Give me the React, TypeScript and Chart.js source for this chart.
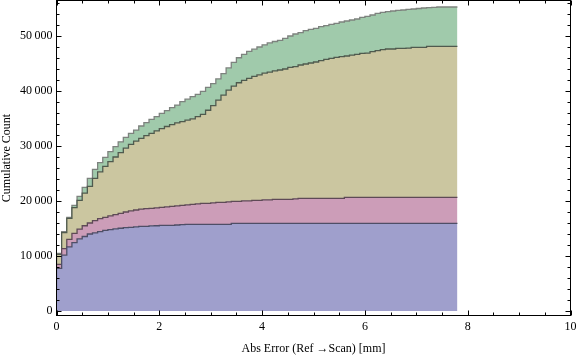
import { useEffect, useRef } from 'react';
import { Chart, registerables } from 'chart.js';

Chart.register(...registerables);

// ---------- data ----------
const BIN_WIDTH = 0.1; // histogram bin width [mm]
const X_END = 7.8; // right edge of the last bin
const X_MIN = 0;
const X_MAX = 10;
const Y_MIN = -818;
const Y_MAX = 56455;
const X_TICKS = [0, 2, 4, 6, 8, 10];
const X_MINOR_STEP = 0.5;
const Y_TICKS = [0, 10000, 20000, 30000, 40000, 50000];
const Y_MINOR_STEP = 2000;

const layerNames = ['Layer 1', 'Layer 2', 'Layer 3', 'Layer 4'];

// cumulative stacked totals (top edge of each layer), one value per 0.1 mm bin
const blueTop = [
  4100, 7760, 10150, 11650, 12450, 13100, 13550, 14000, 14200, 14450,
  14650, 14800, 14950, 15050, 15150, 15210, 15300, 15390, 15390, 15480,
  15500, 15580, 15580, 15580, 15640, 15700, 15760, 15760, 15760, 15760,
  15760, 15760, 15760, 15760, 15760, 15940, 15940, 15940, 15940, 15940,
  15940, 15940, 15940, 15940, 15940, 15940, 15940, 15940, 15940, 15940,
  15940, 15940, 15940, 15940, 15940, 15940, 15940, 15940, 15940, 15940,
  15940, 15940, 15940, 15940, 15940, 15940, 15940, 15940, 15940, 15940,
  15940, 15940, 15940, 15940, 15940, 15940, 15940, 15940,
];

const pinkTop = [
  4700, 8480, 11350, 13030, 14100, 14900, 15500, 16000, 16450, 16780,
  17030, 17280, 17510, 17760, 18000, 18200, 18360, 18540, 18600, 18670,
  18760, 18850, 18940, 19030, 19120, 19210, 19300, 19390, 19480, 19580,
  19580, 19670, 19760, 19760, 19850, 19940, 19940, 20030, 20030, 20120,
  20120, 20210, 20210, 20300, 20300, 20300, 20300, 20390, 20480, 20480,
  20480, 20480, 20480, 20480, 20480, 20480, 20480, 20670, 20670, 20670,
  20670, 20670, 20670, 20670, 20670, 20670, 20670, 20670, 20670, 20670,
  20670, 20670, 20670, 20670, 20670, 20670, 20670, 20670,
];

const tanTop = [
  5450, 10300, 14240, 16850, 18800, 20100, 21450, 22650, 24100, 25300,
  26300, 27150, 28000, 28800, 29600, 30300, 30900, 31400, 31900, 32300,
  32750, 33150, 33550, 33900, 34200, 34450, 34700, 34950, 35330, 35760,
  36500, 37350, 38350, 39250, 40150, 40900, 41500, 41950, 42300, 42650,
  42950, 43250, 43450, 43650, 43820, 44000, 44300, 44450, 44730, 44910,
  45090, 45270, 45510, 45760, 45940, 46120, 46240, 46360, 46540, 46670,
  46850, 46900, 47150, 47330, 47510, 47640, 47640, 47760, 47760, 47800,
  47940, 47940, 47940, 48120, 48120, 48120, 48120, 48120,
];

const greenTop = [
  5580, 10490, 14420, 17030, 19210, 20850, 22480, 24120, 25760, 26970,
  27950, 28970, 29880, 30760, 31580, 32300, 32900, 33640, 34240, 34850,
  35330, 35940, 36420, 36970, 37450, 38060, 38520, 38970, 39390, 39950,
  40650, 41350, 42200, 43150, 44200, 45200, 46050, 46650, 47200, 47600,
  48000, 48400, 48750, 49000, 49210, 49580, 50000, 50360, 50600, 50970,
  51210, 51390, 51700, 51880, 52120, 52300, 52550, 52730, 52910, 53090,
  53390, 53580, 53820, 54120, 54300, 54420, 54550, 54670, 54730, 54850,
  54910, 55000, 55090, 55150, 55210, 55270, 55270, 55270,
];

const fillColors = ['#9f9fcc', '#cc9db8', '#cbc6a0', '#a0caab'];
const lineColors = ['#4e4e66', '#5e4a56', '#4f5a4e', '#7d827e'];

const FONT = '"Liberation Serif", "Times New Roman", serif';

function toSteps(values: number[]) {
  const pts = values.map((v, i) => ({ x: Math.round(i * BIN_WIDTH * 100) / 100, y: v }));
  pts.push({ x: X_END, y: values[values.length - 1] });
  return pts;
}

function groupDigits(v: number) {
  return String(v).replace(/\B(?=(\d{3})+(?!\d))/g, '\u2009');
}

const frameTicks = {
  id: 'frameTicks',
  afterDraw(chart: any) {
    const { ctx, chartArea: a } = chart;
    const xs = chart.scales.x;
    const ys = chart.scales.y;
    ctx.save();
    ctx.strokeStyle = '#000';
    ctx.lineWidth = 1;
    ctx.strokeRect(a.left, a.top, a.right - a.left, a.bottom - a.top);
    ctx.beginPath();
    const MAJ = 5;
    const MIN = 3;
    for (let v = X_MIN; v <= X_MAX + 1e-9; v += X_MINOR_STEP) {
      const isMajor = X_TICKS.some((t) => Math.abs(t - v) < 1e-9);
      const len = isMajor ? MAJ : MIN;
      const px = Math.round(xs.getPixelForValue(v)) + 0.5;
      ctx.moveTo(px, a.bottom);
      ctx.lineTo(px, a.bottom - len);
      ctx.moveTo(px, a.top);
      ctx.lineTo(px, a.top + len);
    }
    for (let v = 0; v <= Y_MAX; v += Y_MINOR_STEP) {
      const isMajor = Y_TICKS.some((t) => Math.abs(t - v) < 1e-9);
      const len = isMajor ? MAJ : MIN;
      const py = Math.round(ys.getPixelForValue(v)) + 0.5;
      ctx.moveTo(a.left, py);
      ctx.lineTo(a.left + len, py);
      ctx.moveTo(a.right, py);
      ctx.lineTo(a.right - len, py);
    }
    ctx.stroke();
    ctx.restore();
  },
};

export default function App() {
  const canvasRef = useRef<HTMLCanvasElement | null>(null);

  useEffect(() => {
    const canvas = canvasRef.current;
    if (!canvas) return;
    const series = [blueTop, pinkTop, tanTop, greenTop];
    const chart = new Chart(canvas, {
      type: 'line',
      data: {
        datasets: series.map((vals, i) => ({
          label: layerNames[i],
          data: toSteps(vals),
          stepped: 'after' as const,
          borderColor: lineColors[i],
          borderWidth: 1.3,
          backgroundColor: fillColors[i],
          fill: i === 0 ? { value: 0 } : '-1',
          pointRadius: 0,
          pointHoverRadius: 0,
          tension: 0,
        })),
      },
      options: {
        responsive: false,
        animation: false,
        events: [],
        layout: { padding: { left: 0, right: 5.5, top: 0.5, bottom: 0 } },
        plugins: {
          legend: { display: false },
          tooltip: { enabled: false },
        },
        scales: {
          x: {
            type: 'linear',
            min: X_MIN,
            max: X_MAX,
            grid: { display: false, drawTicks: false },
            border: { display: false },
            afterBuildTicks: (scale: any) => {
              scale.ticks = X_TICKS.map((v) => ({ value: v }));
            },
            afterFit: (scale: any) => {
              scale.height = 41.5;
              scale.paddingLeft = 0;
              scale.paddingRight = 0;
            },
            ticks: {
              color: '#000',
              padding: 4,
              maxRotation: 0,
              autoSkip: false,
              font: { family: FONT, size: 12 },
              callback: (v: any) => String(v),
            },
            title: {
              display: true,
              text: 'Abs Error (Ref \u2192Scan) [mm]',
              color: '#000',
              font: { family: FONT, size: 12, lineHeight: 1.2 },
              padding: { top: 0, bottom: 0.5 },
            },
          },
          y: {
            type: 'linear',
            min: Y_MIN,
            max: Y_MAX,
            grid: { display: false, drawTicks: false },
            border: { display: false },
            afterBuildTicks: (scale: any) => {
              scale.ticks = Y_TICKS.map((v) => ({ value: v }));
            },
            afterFit: (scale: any) => {
              scale.width = 56.5;
              scale.paddingTop = 0;
              scale.paddingBottom = 0;
            },
            ticks: {
              color: '#000',
              padding: 4,
              autoSkip: false,
              font: { family: FONT, size: 12 },
              callback: (v: any) => groupDigits(Number(v)),
            },
            title: {
              display: true,
              text: 'Cumulative Count',
              color: '#000',
              font: { family: FONT, size: 12, lineHeight: 1.2 },
              padding: { top: 0, bottom: 0 },
            },
          },
        },
      },
      plugins: [frameTicks],
    });
    return () => chart.destroy();
  }, []);

  return (
    <div style={{ position: 'fixed', left: 0, top: 0, width: 576, height: 357, background: '#fff' }}>
      <canvas ref={canvasRef} width={576} height={357} style={{ display: 'block' }} />
    </div>
  );
}
